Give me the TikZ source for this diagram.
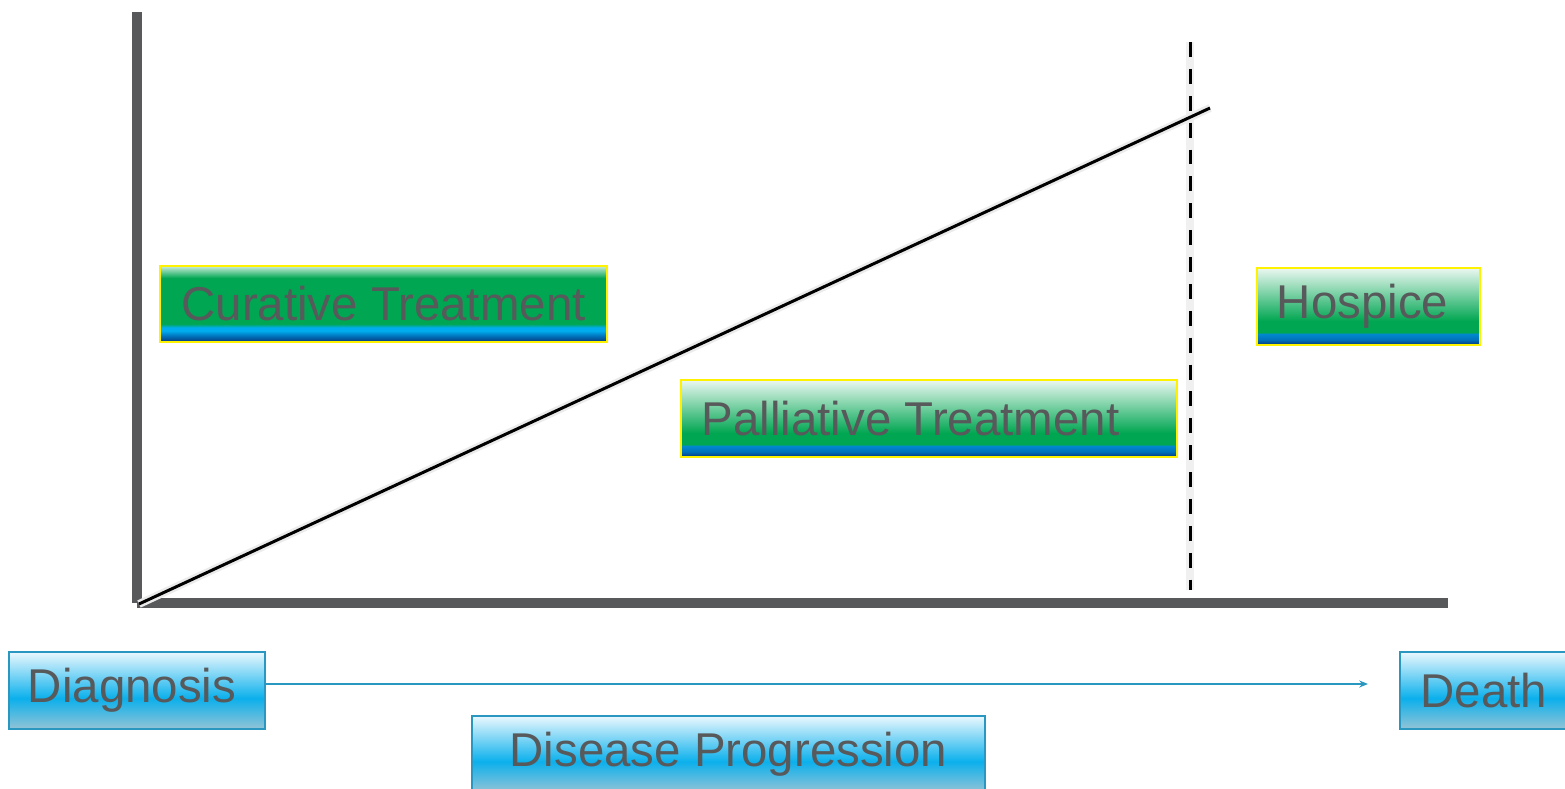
\documentclass[tikz,border=0pt]{standalone}
\usepackage{fontspec}
\setmainfont{Liberation Sans}
\usepackage{tikz}
\usetikzlibrary{arrows.meta}

\definecolor{axisgray}{HTML}{58595B}
\definecolor{textgray}{HTML}{58595B}
\definecolor{barGreen}{HTML}{00A651}
\definecolor{barCyan}{HTML}{00AEEF}
\definecolor{barBlue}{HTML}{0072BC}
\definecolor{barNavy}{HTML}{07377A}
\definecolor{skyTop}{HTML}{EAF8FE}
\definecolor{skyMid}{HTML}{0BB0EC}
\definecolor{skyLow}{HTML}{93C3D6}
\definecolor{skyEdge}{HTML}{2A97C0}
\definecolor{barEdge}{HTML}{FFF200}

% path spans 25bp (bottom) to 75bp (top) of each shading
\pgfdeclareverticalshading{greenbar}{100bp}{color(0bp)=(barNavy); color(25bp)=(barNavy); color(29bp)=(barBlue); color(32.5bp)=(barCyan); color(34.5bp)=(barCyan); color(37bp)=(barGreen); color(67bp)=(barGreen); color(75bp)=(white!80!barGreen); color(100bp)=(white!80!barGreen)}
\pgfdeclareverticalshading{greenfade}{100bp}{color(0bp)=(barNavy); color(25bp)=(barNavy); color(28.5bp)=(barBlue); color(32.5bp)=(barBlue!60!barCyan); color(33bp)=(barGreen); color(40.5bp)=(barGreen); color(75bp)=(white!92!barGreen); color(100bp)=(white!92!barGreen)}
\pgfdeclareverticalshading{skybar}{100bp}{color(0bp)=(skyLow); color(25bp)=(skyLow); color(45bp)=(skyMid); color(75bp)=(skyTop); color(100bp)=(skyTop)}

\begin{document}
\begin{tikzpicture}[x=0.02cm, y=-0.02cm,
    phasebox/.style={rectangle, draw=barEdge, line width=1.1pt, shading=greenfade, text=textgray, font=\fontsize{27}{32}\selectfont, inner sep=0pt},
    stagebox/.style={rectangle, draw=skyEdge, line width=1.1pt, shading=skybar, text=textgray, font=\fontsize{27}{32}\selectfont, inner sep=0pt}]

    \useasboundingbox (0,0) rectangle (1565,788);

    % Axes
    \coordinate (origin) at (137,603);
    \coordinate (ytop) at (137,12);
    \coordinate (xend) at (1448,603);
    \draw[axisgray, line width=5.9pt] (origin) -- (ytop);
    \draw[axisgray, line width=5.9pt] (origin) -- (xend);

    % Dashed boundary and rising line, with a soft shadow behind
    \coordinate (dashtop) at (1190,42);
    \coordinate (dashbot) at (1190,590);
    \coordinate (risestart) at (139,604);
    \coordinate (riseend) at (1210,108);
    \draw[black!6, line width=4.5pt] (dashtop) -- (dashbot);
    \draw[black!8, line width=4.5pt] (risestart) -- (riseend);
    \draw[black, line width=1.7pt, dash pattern=on 8.5pt off 6.8pt] (dashtop) -- (dashbot);
    \draw[black, line width=1.7pt] (risestart) -- (riseend);

    % Treatment phases
    \node[phasebox, shading=greenbar, minimum width=8.94cm, minimum height=1.52cm] (curative) at (383.5,304) {Curative Treatment};
    \node[phasebox, minimum width=9.92cm, minimum height=1.54cm] (palliative) at (929,418.5) {Palliative Treatment\hspace*{0.74cm}};
    \node[phasebox, minimum width=4.46cm, minimum height=1.54cm] (hospice) at (1368.5,306.5) {Hospice\hspace*{0.24cm}};

    % Timeline
    \node[stagebox, minimum width=5.12cm, minimum height=1.54cm] (diagnosis) at (137,690.5) {Diagnosis\hspace*{0.2cm}};
    \node[stagebox, minimum width=3.36cm, minimum height=1.54cm] (death) at (1484,690.5) {Death};
    \node[stagebox, minimum width=10.26cm, minimum height=1.52cm] (progress) at (728.5,754) {Disease Progression};

    \coordinate (arrowend) at (1368,684);
    \draw[skyEdge, line width=0.8pt, -{Stealth[length=5pt, width=4pt]}] (diagnosis.east |- arrowend) -- (arrowend);
\end{tikzpicture}
\end{document}
